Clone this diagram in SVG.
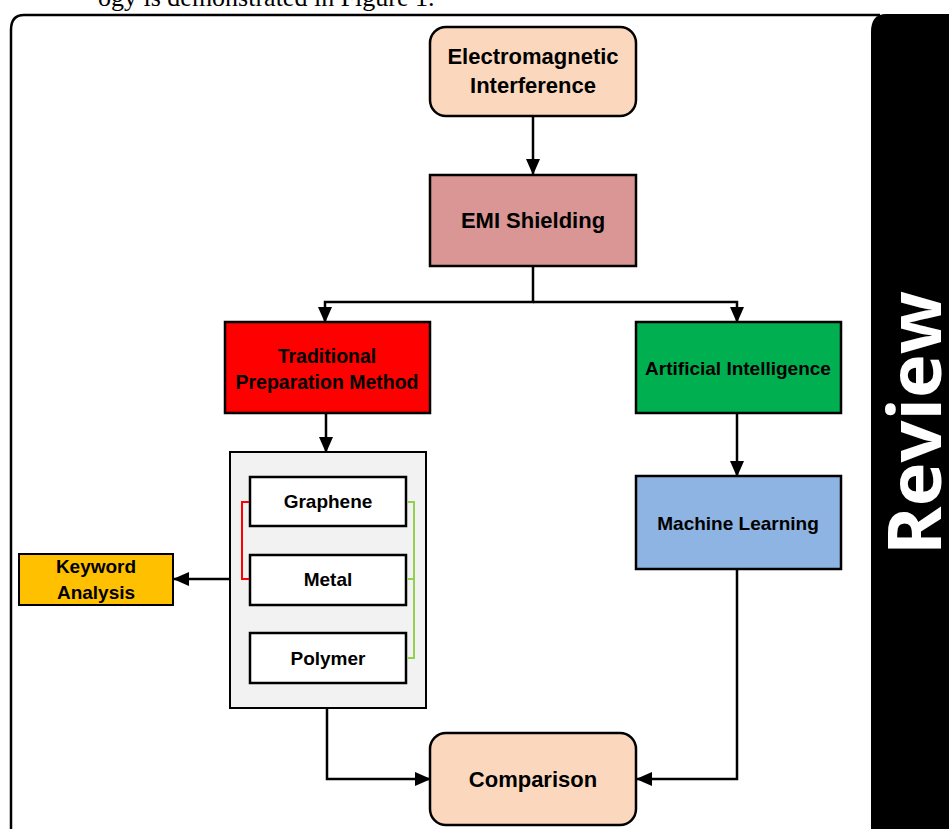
<svg xmlns="http://www.w3.org/2000/svg" width="949" height="829" viewBox="0 0 949 829">
<defs>
<style>
.box{stroke:#000;stroke-width:2.5}
.lbl{font-family:"Liberation Sans",Arial,sans-serif;font-weight:bold;font-size:19px;fill:#000;text-anchor:middle}
.big{font-size:22px}
.trad{font-size:19.5px}
.con{fill:none;stroke:#000;stroke-width:2.5}
</style>
<marker id="ah" markerUnits="userSpaceOnUse" markerWidth="16" markerHeight="14" refX="15" refY="7" orient="auto">
<path d="M0,0 L16,7 L0,14 Z" fill="#000"/>
</marker>
</defs>
<rect width="949" height="829" fill="#fff"/>
<text x="98" y="6" font-family="Liberation Serif,serif" font-size="26" fill="#000">ogy is demonstrated in Figure 1.</text>
<path d="M880,15 L24,15 Q11,15 11,30 L11,829" fill="none" stroke="#000" stroke-width="2.5"/>
<path d="M949,14 L886,14 Q871,14 871,32 L871,829 L949,829 Z" fill="#000"/>
<text transform="translate(941,423) rotate(-90)" font-family="Open Sans,Liberation Sans,sans-serif" font-weight="bold" font-size="74" fill="#fff" text-anchor="middle">Review</text>

<g id="emi">
<rect class="box" x="430" y="27" width="206" height="89" rx="16" fill="#FBD8BD"/>
<text class="lbl big" x="533" y="64">Electromagnetic</text>
<text class="lbl big" x="533" y="93">Interference</text>
</g>
<g id="shielding">
<rect class="box" x="430" y="175" width="206" height="91" fill="#D99694"/>
<text class="lbl big" x="533" y="228">EMI Shielding</text>
</g>
<g id="traditional">
<rect class="box" x="225" y="322" width="205" height="91" fill="#FF0000"/>
<text class="lbl trad" x="327" y="363">Traditional</text>
<text class="lbl trad" x="327" y="389">Preparation Method</text>
</g>
<g id="ai">
<rect class="box" x="636" y="322" width="205" height="91" fill="#00B050"/>
<text class="lbl" x="738" y="375">Artificial Intelligence</text>
</g>
<g id="materials">
<rect x="230" y="452" width="196" height="256" fill="#F2F2F2" stroke="#000" stroke-width="2"/>
</g>
<g id="graphene">
<rect class="box" x="250" y="477" width="156" height="49" fill="#fff"/>
<text class="lbl" x="328" y="508">Graphene</text>
</g>
<g id="metal">
<rect class="box" x="250" y="555" width="156" height="50" fill="#fff"/>
<text class="lbl" x="328" y="586">Metal</text>
</g>
<g id="polymer">
<rect class="box" x="250" y="633" width="156" height="50" fill="#fff"/>
<text class="lbl" x="328" y="665">Polymer</text>
</g>
<g id="keyword">
<rect x="19" y="554" width="154" height="51" fill="#FFC000" stroke="#000" stroke-width="2"/>
<text class="lbl" x="96" y="573">Keyword</text>
<text class="lbl" x="96" y="599">Analysis</text>
</g>
<g id="ml">
<rect class="box" x="636" y="476" width="205" height="93" fill="#8EB4E3"/>
<text class="lbl" x="738" y="530">Machine Learning</text>
</g>
<g id="comparison">
<rect class="box" x="430" y="733" width="206" height="92" rx="16" fill="#FBD8BD"/>
<text class="lbl big" x="533" y="787">Comparison</text>
</g>

<g id="connectors">
<path class="con" d="M533,116 L533,174" marker-end="url(#ah)"/>
<path class="con" d="M533,266 L533,302 L325,302 L325,322" marker-end="url(#ah)"/>
<path class="con" d="M533,302 L737,302 L737,322" marker-end="url(#ah)"/>
<path class="con" d="M326,413 L326,452" marker-end="url(#ah)"/>
<path class="con" d="M737,413 L737,476" marker-end="url(#ah)"/>
<path class="con" d="M230,579 L174,579" marker-end="url(#ah)"/>
<path class="con" d="M327,708 L327,779 L430,779" marker-end="url(#ah)"/>
<path class="con" d="M737,569 L737,779 L637,779" marker-end="url(#ah)"/>
<path d="M249,502 L242,502 L242,579 L249,579" fill="none" stroke="#FF0000" stroke-width="2"/>
<path d="M407,502 L414,502 L414,658 L407,658 M407,579 L414,579" fill="none" stroke="#92D050" stroke-width="2"/>
</g>
</svg>
